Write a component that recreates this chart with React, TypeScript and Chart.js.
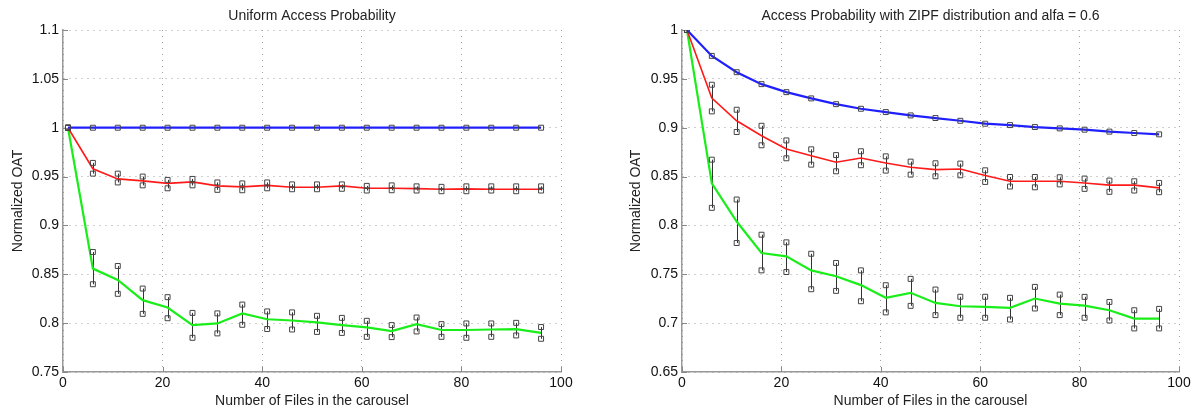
import React, { useEffect, useRef } from 'react';
import { Chart, registerables } from 'chart.js';

Chart.register(...registerables);

// ---------- data ----------
const X_VALUES = [1, 6, 11, 16, 21, 26, 31, 36, 41, 46, 51, 56, 61, 66, 71, 76, 81, 86, 91, 96];
const X_TICKS = [0, 20, 40, 60, 80, 100];
const LEFT_Y_TICKS = [0.75, 0.8, 0.85, 0.9, 0.95, 1, 1.05, 1.1];
const RIGHT_Y_TICKS = [0.65, 0.7, 0.75, 0.8, 0.85, 0.9, 0.95, 1];

const LEFT_TITLE = 'Uniform Access Probability';
const RIGHT_TITLE = 'Access Probability with ZIPF distribution and alfa = 0.6';
const X_TITLE = 'Number of Files in the carousel';
const Y_TITLE = 'Normalized OAT';

// Uniform access probability
const L_BLUE = [1, 1, 1, 1, 1, 1, 1, 1, 1, 1, 1, 1, 1, 1, 1, 1, 1, 1, 1, 1];
const L_RED_MEAN = [1, 0.958, 0.9476, 0.9456, 0.943, 0.9446, 0.9405, 0.9395, 0.941, 0.939, 0.939, 0.9405, 0.938, 0.938, 0.9377, 0.937, 0.9374, 0.937, 0.937, 0.937];
const L_RED_HI = [1, 0.964, 0.953, 0.95, 0.9466, 0.9476, 0.944, 0.943, 0.944, 0.942, 0.942, 0.942, 0.9405, 0.941, 0.94, 0.9395, 0.94, 0.94, 0.94, 0.94];
const L_RED_LO = [1, 0.953, 0.944, 0.941, 0.938, 0.941, 0.9364, 0.936, 0.938, 0.937, 0.937, 0.9375, 0.9357, 0.936, 0.9357, 0.935, 0.935, 0.9357, 0.935, 0.9357];
const L_GREEN_MEAN = [1, 0.8558, 0.8442, 0.8235, 0.816, 0.798, 0.7997, 0.81, 0.804, 0.8027, 0.8007, 0.798, 0.7956, 0.7918, 0.799, 0.793, 0.793, 0.7935, 0.7939, 0.79];
const L_GREEN_HI = [1, 0.8728, 0.8585, 0.8354, 0.8266, 0.8105, 0.81, 0.819, 0.812, 0.811, 0.8075, 0.8054, 0.8024, 0.798, 0.8058, 0.799, 0.7997, 0.7997, 0.8003, 0.796];
const L_GREEN_LO = [1, 0.8398, 0.83, 0.8095, 0.805, 0.785, 0.7895, 0.7983, 0.794, 0.7935, 0.791, 0.79, 0.786, 0.7857, 0.7915, 0.786, 0.785, 0.786, 0.7874, 0.784];

// ZIPF distribution, alfa = 0.6
const R_BLUE = [1, 0.9735, 0.9568, 0.9446, 0.9364, 0.93, 0.9241, 0.9194, 0.916, 0.9126, 0.9099, 0.9071, 0.9041, 0.9027, 0.9007, 0.8993, 0.898, 0.896, 0.8946, 0.8932];
const R_RED_MEAN = [1, 0.9303, 0.9071, 0.8918, 0.8782, 0.8714, 0.8646, 0.869, 0.8639, 0.8595, 0.8571, 0.8578, 0.851, 0.8452, 0.8452, 0.8452, 0.8435, 0.8412, 0.8412, 0.8384];
const R_RED_HI = [1, 0.944, 0.9184, 0.902, 0.887, 0.8779, 0.872, 0.8759, 0.8707, 0.8653, 0.8636, 0.8633, 0.8564, 0.8496, 0.8496, 0.8493, 0.848, 0.8459, 0.8452, 0.8435];
const R_RED_LO = [1, 0.9167, 0.8956, 0.882, 0.8687, 0.8622, 0.8554, 0.8616, 0.8561, 0.852, 0.8503, 0.8513, 0.8445, 0.8398, 0.839, 0.842, 0.8374, 0.8344, 0.8357, 0.834];
const R_GREEN_MEAN = [1, 0.843, 0.804, 0.7718, 0.7684, 0.754, 0.748, 0.7389, 0.7259, 0.731, 0.7207, 0.7173, 0.7166, 0.7156, 0.7252, 0.72, 0.718, 0.7132, 0.7047, 0.7047];
const R_GREEN_HI = [1, 0.8673, 0.8265, 0.7905, 0.7827, 0.771, 0.7616, 0.754, 0.7388, 0.7453, 0.7344, 0.727, 0.727, 0.7259, 0.7371, 0.7292, 0.7269, 0.7217, 0.7132, 0.7146];
const R_GREEN_LO = [1, 0.818, 0.782, 0.754, 0.7523, 0.7347, 0.733, 0.7224, 0.711, 0.7177, 0.7082, 0.7055, 0.7055, 0.7037, 0.715, 0.7082, 0.7055, 0.7027, 0.6946, 0.6946];

// ---------- styling ----------
const FONT = "'Liberation Sans', Arial, Helvetica, sans-serif";
const BLUE = '#2020ff';
const RED = '#ff1a1a';
const GREEN = '#1aee1a';
const MARKER = '#444444';
const CANVAS_H = 414;

type PanelSpec = {
  width: number;
  title: string;
  yTicks: number[];
  areaLeft: number;
  areaRight: number;
  yTitlePad: number;
  blue: number[];
  redMean: number[];
  redHi: number[];
  redLo: number[];
  greenMean: number[];
  greenHi: number[];
  greenLo: number[];
};

const pts = (ys: number[]) => X_VALUES.map((x, i) => ({ x, y: ys[i] }));
const fmt = (v: number) => String(+Number(v).toFixed(2));

function lineDs(data: number[], color: string, width: number) {
  return {
    data: pts(data),
    borderColor: color,
    backgroundColor: color,
    borderWidth: width,
    pointRadius: 0,
    tension: 0,
    showLine: true,
    fill: false,
  };
}

function markerDs(data: number[]) {
  return {
    data: pts(data),
    showLine: false,
    pointStyle: 'rect',
    pointRadius: 3.5,
    pointBorderWidth: 1,
    pointBorderColor: MARKER,
    pointBackgroundColor: 'rgba(0,0,0,0)',
  };
}

function makeConfig(spec: PanelSpec): any {
  const pairs = [
    [spec.redHi, spec.redLo],
    [spec.greenHi, spec.greenLo],
  ];
  const extras = {
    id: 'extras',
    beforeDatasetsDraw(chart: any) {
      const { ctx, chartArea, scales } = chart;
      const xs = scales.x;
      const ys = scales.y;
      ctx.save();
      // inward tick marks (left and bottom axes)
      ctx.strokeStyle = '#888';
      ctx.lineWidth = 1;
      ctx.beginPath();
      spec.yTicks.forEach((v) => {
        const py = Math.round(ys.getPixelForValue(v)) + 0.5;
        ctx.moveTo(chartArea.left, py);
        ctx.lineTo(chartArea.left + 5, py);
      });
      X_TICKS.forEach((v) => {
        const px = Math.round(xs.getPixelForValue(v)) + 0.5;
        ctx.moveTo(px, chartArea.bottom);
        ctx.lineTo(px, chartArea.bottom - 5);
      });
      ctx.stroke();
      // error bars
      ctx.strokeStyle = '#333';
      ctx.lineWidth = 1;
      ctx.beginPath();
      pairs.forEach(([hi, lo]) => {
        X_VALUES.forEach((x, i) => {
          const px = Math.round(xs.getPixelForValue(x)) + 0.5;
          ctx.moveTo(px, ys.getPixelForValue(hi[i]));
          ctx.lineTo(px, ys.getPixelForValue(lo[i]));
        });
      });
      ctx.stroke();
      ctx.restore();
    },
    afterDraw(chart: any) {
      const { ctx, chartArea } = chart;
      ctx.save();
      ctx.fillStyle = '#222';
      ctx.font = `14px ${FONT}`;
      ctx.textAlign = 'center';
      ctx.textBaseline = 'middle';
      ctx.fillText(spec.title, (chartArea.left + chartArea.right) / 2, 16);
      ctx.restore();
    },
  };

  const tickFont = { family: FONT, size: 14 };
  const yMin = spec.yTicks[0];
  const yMax = spec.yTicks[spec.yTicks.length - 1];

  return {
    type: 'scatter',
    data: {
      datasets: [
        markerDs(spec.blue),
        markerDs(spec.redHi),
        markerDs(spec.redLo),
        markerDs(spec.greenHi),
        markerDs(spec.greenLo),
        lineDs(spec.blue, BLUE, 2.2),
        lineDs(spec.redMean, RED, 1.6),
        lineDs(spec.greenMean, GREEN, 2.2),
      ],
    },
    options: {
      responsive: false,
      animation: false,
      devicePixelRatio: 1,
      layout: { padding: { top: 30, right: spec.width - spec.areaRight, left: 0, bottom: 0 } },
      plugins: {
        legend: { display: false },
        tooltip: { enabled: false },
        title: { display: false },
      },
      scales: {
        x: {
          type: 'linear',
          min: 0,
          max: 100,
          afterBuildTicks: (s: any) => {
            s.ticks = X_TICKS.map((v) => ({ value: v }));
          },
          afterFit: (s: any) => {
            s.height = CANVAS_H - 372;
          },
          ticks: {
            autoSkip: false,
            maxRotation: 0,
            padding: 2.6,
            color: '#111',
            font: tickFont,
            callback: (v: any) => fmt(v),
          },
          grid: { color: '#a0a0a0', lineWidth: 1, drawTicks: false },
          border: { display: true, color: '#999', width: 1.5, dash: [1, 5] },
          title: {
            display: true,
            text: X_TITLE,
            color: '#222',
            font: { family: FONT, size: 14 },
            padding: { top: 0, bottom: 4.6 },
          },
        },
        y: {
          type: 'linear',
          min: yMin,
          max: yMax,
          afterBuildTicks: (s: any) => {
            s.ticks = spec.yTicks.map((v) => ({ value: v }));
          },
          afterFit: (s: any) => {
            s.width = spec.areaLeft;
          },
          ticks: {
            autoSkip: false,
            padding: 4,
            color: '#111',
            font: tickFont,
            callback: (v: any) => fmt(v),
          },
          grid: { color: '#a0a0a0', lineWidth: 1, drawTicks: false },
          border: { display: true, color: '#999', width: 1.5, dash: [1, 5] },
          title: {
            display: true,
            text: Y_TITLE,
            color: '#222',
            font: { family: FONT, size: 14 },
            padding: { top: spec.yTitlePad, bottom: 0 },
          },
        },
      },
    },
    plugins: [extras],
  };
}

const LEFT_SPEC: PanelSpec = {
  width: 600,
  title: LEFT_TITLE,
  yTicks: LEFT_Y_TICKS,
  areaLeft: 63,
  areaRight: 561,
  yTitlePad: 10,
  blue: L_BLUE,
  redMean: L_RED_MEAN,
  redHi: L_RED_HI,
  redLo: L_RED_LO,
  greenMean: L_GREEN_MEAN,
  greenHi: L_GREEN_HI,
  greenLo: L_GREEN_LO,
};

const RIGHT_SPEC: PanelSpec = {
  width: 602,
  title: RIGHT_TITLE,
  yTicks: RIGHT_Y_TICKS,
  areaLeft: 82,
  areaRight: 579,
  yTitlePad: 27.6,
  blue: R_BLUE,
  redMean: R_RED_MEAN,
  redHi: R_RED_HI,
  redLo: R_RED_LO,
  greenMean: R_GREEN_MEAN,
  greenHi: R_GREEN_HI,
  greenLo: R_GREEN_LO,
};

function Panel({ spec, left }: { spec: PanelSpec; left: number }) {
  const ref = useRef<HTMLCanvasElement | null>(null);
  useEffect(() => {
    if (!ref.current) return;
    const chart = new Chart(ref.current, makeConfig(spec));
    return () => chart.destroy();
  }, [spec]);
  return (
    <canvas
      ref={ref}
      width={spec.width}
      height={CANVAS_H}
      style={{ position: 'absolute', left, top: 0, width: spec.width, height: CANVAS_H, display: 'block' }}
    />
  );
}

export default function App() {
  return (
    <div
      style={{
        position: 'absolute',
        left: 0,
        top: 0,
        width: 1202,
        height: CANVAS_H,
        background: '#ffffff',
        overflow: 'hidden',
      }}
    >
      <Panel spec={LEFT_SPEC} left={0} />
      <Panel spec={RIGHT_SPEC} left={600} />
    </div>
  );
}
